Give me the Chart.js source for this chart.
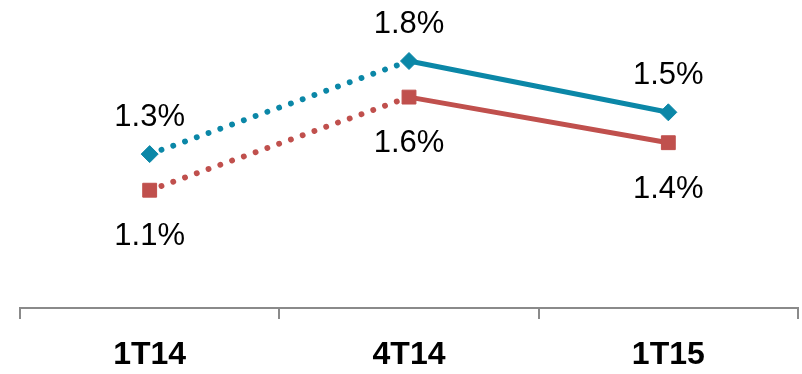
<!DOCTYPE html>
<html>
<head>
<meta charset="utf-8">
<script src="https://cdn.jsdelivr.net/npm/chart.js@4/dist/chart.umd.min.js"></script>
<style>
  html, body { margin: 0; padding: 0; background: #ffffff; }
  #wrap { width: 802px; height: 374px; }
</style>
</head>
<body>
<div id="wrap"><canvas id="chart" width="802" height="374"></canvas></div>
<script>
// Quarters shown on the horizontal axis
const categories = ['1T14', '4T14', '1T15'];
// Ratio per quarter (%), two series
const seriesTeal = [1.31, 1.80, 1.53];
const seriesRed = [1.12, 1.61, 1.37];

const TEAL = '#0b87a7';
const RED = '#c0504d';
const AXIS = '#8a8a8a';
const FONT = '"Liberation Sans", Arial, sans-serif';

// First segment (1T14 -> 4T14) is dotted with round dots, the rest is solid
const segmentStyle = {
  borderDash: ctx => ctx.p0DataIndex === 0 ? [0.1, 12.4] : [],
  borderWidth: ctx => ctx.p0DataIndex === 0 ? 5.8 : 5
};

// Writes each point's value above or below its marker
const pointValueLabels = {
  id: 'pointValueLabels',
  afterDatasetsDraw(chart, args, opts) {
    const ctx = chart.ctx;
    ctx.save();
    ctx.font = opts.font;
    ctx.fillStyle = opts.color;
    ctx.textAlign = 'center';
    ctx.textBaseline = 'alphabetic';
    chart.data.datasets.forEach((ds, i) => {
      const meta = chart.getDatasetMeta(i);
      const dy = opts.offsets[i];
      meta.data.forEach((pt, j) => {
        ctx.fillText(ds.data[j].toFixed(1) + '%', pt.x, pt.y + dy);
      });
    });
    ctx.restore();
  }
};

const chart = new Chart(document.getElementById('chart'), {
  type: 'line',
  data: {
    labels: categories,
    datasets: [
      {
        data: seriesTeal,
        borderColor: TEAL,
        backgroundColor: TEAL,
        borderWidth: 5,
        borderCapStyle: 'round',
        pointStyle: 'rectRot',
        pointRadius: 8.5,
        pointBorderWidth: 1,
        pointBackgroundColor: TEAL,
        pointBorderColor: TEAL,
        tension: 0,
        segment: segmentStyle
      },
      {
        data: seriesRed,
        borderColor: RED,
        backgroundColor: RED,
        borderWidth: 5,
        borderCapStyle: 'round',
        pointStyle: 'rect',
        pointRadius: 9.8,
        pointBorderWidth: 1,
        pointBackgroundColor: RED,
        pointBorderColor: RED,
        tension: 0,
        segment: segmentStyle
      }
    ]
  },
  options: {
    responsive: false,
    devicePixelRatio: 1,
    animation: false,
    layout: {
      autoPadding: false,
      padding: { top: 23, left: 20, right: 4, bottom: 0 }
    },
    plugins: {
      legend: { display: false },
      tooltip: { enabled: false },
      pointValueLabels: {
        font: '31px ' + FONT,
        color: '#000000',
        offsets: [-28, 55]
      }
    },
    scales: {
      x: {
        offset: true,
        grid: {
          offset: true,
          drawOnChartArea: false,
          drawTicks: true,
          tickLength: 11,
          color: AXIS,
          lineWidth: 2
        },
        border: { display: true, color: AXIS, width: 2 },
        ticks: {
          color: '#000000',
          padding: 17,
          font: { family: FONT, size: 32, weight: 'bold' }
        },
        afterFit(scale) {
          scale.height = 66;
          scale.paddingLeft = 0;
          scale.paddingRight = 0;
        }
      },
      y: {
        display: false,
        min: 0.5,
        max: 2.0
      }
    }
  },
  plugins: [pointValueLabels]
});
</script>
</body>
</html>
